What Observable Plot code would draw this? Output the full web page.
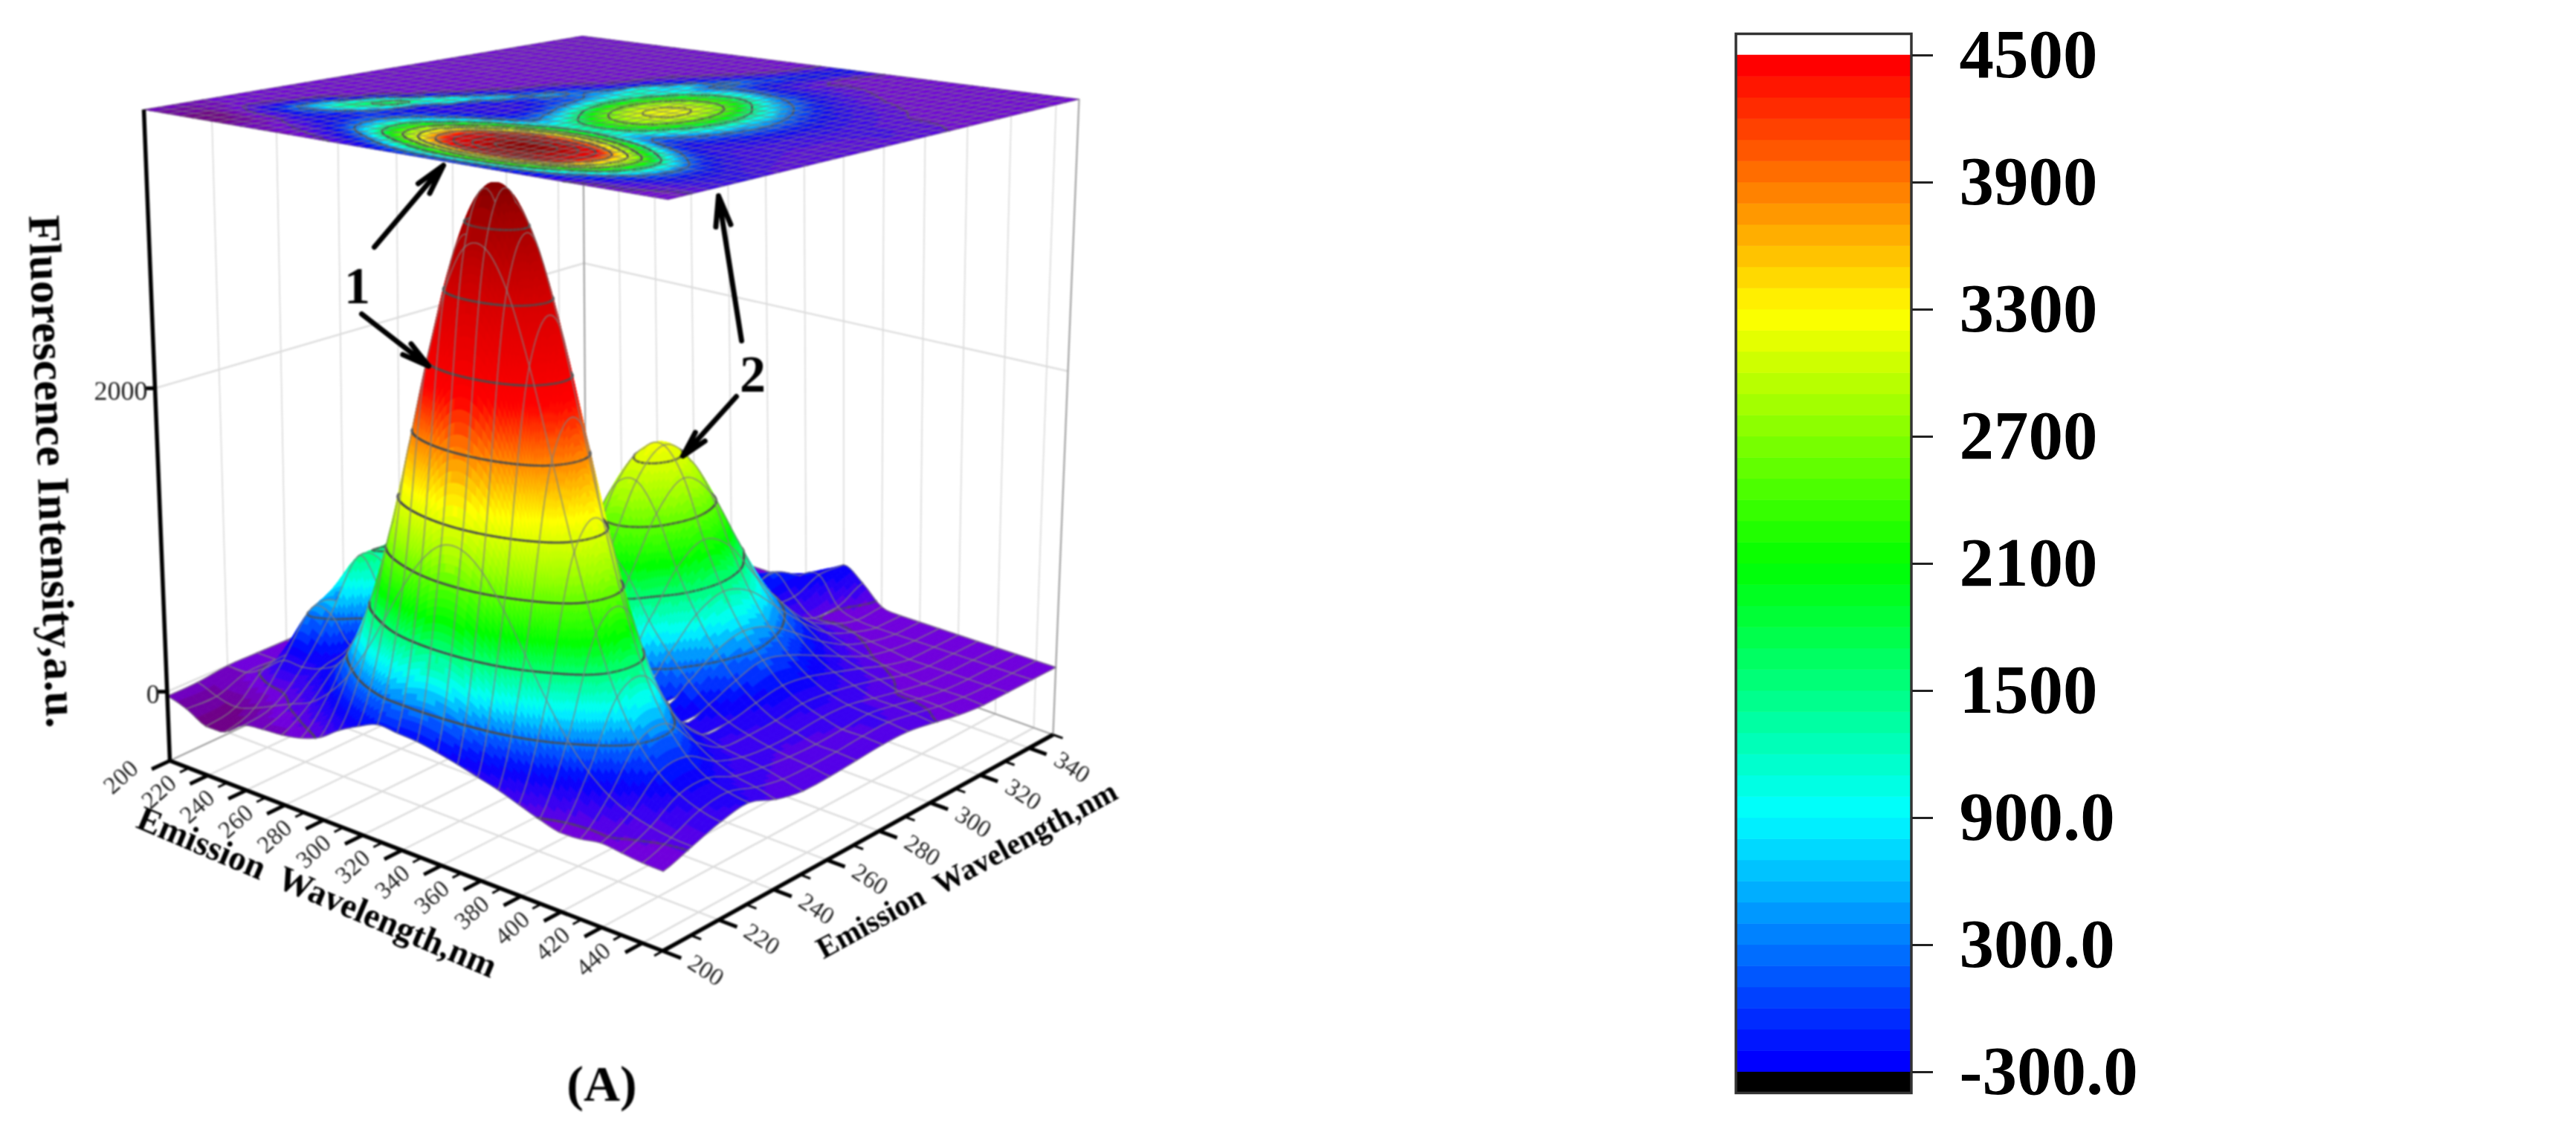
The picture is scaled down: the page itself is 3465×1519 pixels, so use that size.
<!DOCTYPE html>
<html><head><meta charset="utf-8">
<script src="https://cdn.jsdelivr.net/npm/d3@7"></script>
<script src="https://cdn.jsdelivr.net/npm/@observablehq/plot@0.6"></script>
<style>html,body{margin:0;background:#fff}#c{position:relative;width:3465px;height:1519px;overflow:hidden;background:#fff}#c>svg{position:absolute;top:0}</style>
</head><body><div id="c"></div>
<script>
// ---- axes ----
const emission = d3.range(200, 451, 10);
const excitation = d3.range(200, 351, 10);
const emissionTicks = [200,220,240,260,280,300,320,340,360,380,400,420,440];
const excitationTicks = [200,220,240,260,280,300,320,340];
const intensityTicks = [0,2000];
const barTicks = [-300,300,900,1500,2100,2700,3300,3900,4500];
const barLabels = ["-300.0","300.0","900.0","1500","2100","2700","3300","3900","4500"];
// ---- surface heights; one row per excitation wavelength, emission 200..450 ----
const ex200=[-60,-140,-280,-260,-80,-40,-20,30,130,310,450,560,540,520,470,410,340,270,180,90,20,30,70,40,10,0];
const ex210=[-50,-150,-200,-120,0,120,234,454,760,1176,1666,2164,2582,2838,2856,2646,2254,1770,1294,888,584,378,250,180,136,120];
const ex220=[0,0,150,350,350,420,592,1056,1760,2704,3822,4962,5932,6520,6560,6078,5174,4060,2976,2044,1334,868,576,402,296,240];
const ex230=[0,0,200,900,900,560,680,1160,1910,2922,4120,5346,6388,7018,7064,6548,5576,4376,3208,2202,1434,930,608,428,344,300];
const ex240=[0,0,30,800,1550,1200,520,720,1014,1600,2310,3048,3676,4038,4028,3678,3070,2358,1698,1168,788,540,382,282,232,170];
const ex250=[0,0,10,60,1200,1700,700,300,440,550,750,1050,1350,1500,1480,1300,1060,800,590,440,370,300,260,220,160,100];
const ex260=[0,0,0,10,30,900,1400,500,330,360,680,1130,1640,2010,2100,1830,1350,1000,720,500,360,280,220,180,150,110];
const ex270=[0,0,0,0,10,40,700,1100,500,560,920,1570,2290,2810,2910,2540,1880,1350,950,650,440,300,230,170,160,140];
const ex280=[0,0,0,0,0,10,80,500,1000,700,1100,1800,2600,3150,3260,2880,2120,1500,1050,750,500,350,260,190,190,170];
const ex290=[0,0,0,0,0,0,20,190,520,900,1150,1600,2290,2810,2910,2540,1880,1350,950,650,450,320,250,220,200,170];
const ex300=[0,0,0,0,0,0,0,30,100,450,1300,1200,1590,1940,2010,1750,1300,980,700,480,340,250,170,160,140,110];
const ex310=[0,0,0,0,0,0,0,0,0,160,600,1100,860,1040,1080,940,780,600,420,300,220,160,90,80,70,40];
const ex320=[0,0,0,0,0,0,0,0,0,60,140,480,880,600,450,390,360,280,200,130,90,50,20,20,20,0];
const ex330=[0,0,0,0,0,0,0,0,0,20,50,80,350,620,350,130,140,110,70,40,0,0,0,0,0,0];
const ex340=[0,0,0,0,0,0,0,0,0,0,20,40,80,400,500,120,20,0,0,0,0,0,0,0,0,0];
const ex350=[0,0,0,0,0,0,0,0,0,0,0,0,20,200,480,300,40,0,0,0,0,0,0,0,0,0];
const table=[ex200,ex210,ex220,ex230,ex240,ex250,ex260,ex270,ex280,ex290,ex300,ex310,ex320,ex330,ex340,ex350];
const contourLevels=[100,850,1600,2400,3100,4000,4950,5900,6800];

// ---- surface colours ----
const stopValues=[-300,0,170,450,800,1150,1900,2650,3300,4000,4650,5800,6900,7500];
const stopColours=["#6f0088","#7000dc","#4000f0","#0000ff","#0070ff","#00ffff","#00ff00","#a0ff00","#ffff00","#ff8000","#ff0000","#d80000","#a00000","#700000"];
const surfaceColour=d3.scaleLinear(stopValues,stopColours).clamp(true);
const bands=d3.range(-400,8001,100);
const CONTOUR=-20000,WIRE=-10000;
const surfaceDomain=[-15000,-5000,...bands];
const surfaceRange=["#4d4d4d","#808080",surfaceColour(-400),...bands.map(b=>surfaceColour(b))];

// ---- 3D frame ----
function quad(p00,p10,p11,p01){
  const dx1=p10[0]-p11[0],dx2=p01[0]-p11[0],sx=p00[0]-p10[0]+p11[0]-p01[0];
  const dy1=p10[1]-p11[1],dy2=p01[1]-p11[1],sy=p00[1]-p10[1]+p11[1]-p01[1];
  const den=dx1*dy2-dx2*dy1,g=(sx*dy2-dx2*sy)/den,h=(dx1*sy-sx*dy1)/den;
  const a=p10[0]-p00[0]+g*p10[0],b=p01[0]-p00[0]+h*p01[0],c=p00[0];
  const d=p10[1]-p00[1]+g*p10[1],e=p01[1]-p00[1]+h*p01[1],f=p00[1];
  return (u,v)=>{const w=g*u+h*v+1;return [(a*u+b*v+c)/w,(d*u+e*v+f)/w];};
}
const floorMap=quad([228,1023],[891,1279],[1416,988],[788,762]);
const topMap=quad([193,147],[898,268],[1451,133],[783,48]);
const U=d3.scaleLinear([200,450],[0,1]),V=d3.scaleLinear([200,350],[0,1]);
const heightOfTable=d3.scaleLinear([0,1000],[.106,.219]);   // surface height, as a fraction of the box
const heightOfAxis=d3.scaleLinear([0,2000],[.106,.572]);    // labelled z axis
function at(x,y,frac){const u=U(x),v=V(y),F=floorMap(u,v),T=topMap(u,v);return [F[0]+frac*(T[0]-F[0]),F[1]+frac*(T[1]-F[1])];}
// the projected map on the lid sits slightly offset from the box perspective
function onLid(x,y){const u=U(x),v=V(y),k=.38-.33*v;return topMap(u+k*u*(1-u),v-.16*v*(1-v));}

// ---- bicubic sampling of the table for drawing the mesh ----
const cr=(a,b,c,d,t)=>.5*(2*b+(c-a)*t+(2*a-5*b+4*c-d)*t*t+(3*b-a-3*c+d)*t*t*t);
const cell=(j,i)=>table[Math.max(0,Math.min(table.length-1,j))][Math.max(0,Math.min(emission.length-1,i))];
function sample(j,i,t,s){
  const r=[-1,0,1,2].map(dj=>cr(cell(j+dj,i-1),cell(j+dj,i),cell(j+dj,i+1),cell(j+dj,i+2),s));
  const val=cr(r[0],r[1],r[2],r[3],t);
  return Math.max(val,Math.min(cell(j,i),cell(j,i+1),cell(j+1,i),cell(j+1,i+1)));
}
// ---- build the mesh rows, far cells first ----
function buildMesh(flat){
  const rows=[];let id=0;
  const P=(x,y,val)=>flat?onLid(x,y):at(x,y,heightOfTable(val));
  const add=(pts,code,kind)=>{id++;for(const p of pts)rows.push({id,px:p[0],py:p[1],code,kind});};
  for(let j=table.length-2;j>=0;j--)for(let i=0;i<emission.length-1;i++){
    const c=[cell(j,i),cell(j,i+1),cell(j+1,i),cell(j+1,i+1)];
    let n=Math.max(4,Math.min(flat?16:28,Math.ceil((d3.max(c)-d3.min(c))/(flat?150:80))));
    if(n%2)n++;
    const xs=d3.range(n+1).map(k=>emission[i]+10*k/n),ys=d3.range(n+1).map(k=>excitation[j]+10*k/n);
    const g=ys.map((_,b)=>xs.map((_,a)=>sample(j,i,b/n,a/n)));
    for(let b=0;b<n;b++)for(let a=0;a<n;a++){
      const m=(g[b][a]+g[b][a+1]+g[b+1][a]+g[b+1][a+1])/4;
      add([P(xs[a],ys[b],g[b][a]),P(xs[a+1],ys[b],g[b][a+1]),P(xs[a+1],ys[b+1],g[b+1][a+1]),P(xs[a],ys[b+1],g[b+1][a]),P(xs[a],ys[b],g[b][a])],m,"fill");
    }
    for(const L of contourLevels)for(let b=0;b<n;b++)for(let a=0;a<n;a++){
      const v=[g[b][a],g[b][a+1],g[b+1][a+1],g[b+1][a]],X=[xs[a],xs[a+1],xs[a+1],xs[a]],Y=[ys[b],ys[b],ys[b+1],ys[b+1]],hit=[];
      for(let e=0;e<4;e++){const q=(e+1)%4;if((v[e]<L)!==(v[q]<L)){const t=(L-v[e])/(v[q]-v[e]);hit.push(P(X[e]+t*(X[q]-X[e]),Y[e]+t*(Y[q]-Y[e]),L));}}
      if(hit.length>=2)add(hit.slice(0,2),CONTOUR,"contour");
    }
    const rowsAt=flat?[0,n/2,n]:[0,n],colsAt=flat?[0,n/2,n]:[0,n];
    for(const b of rowsAt)add(d3.range(n+1).map(a=>P(xs[a],ys[b],g[b][a])),WIRE,"wire");
    for(const a of colsAt)add(d3.range(n+1).map(b=>P(xs[a],ys[b],g[b][a])),WIRE,"wire");
  }
  return rows;
}
const meshMark=(rows,wireW,contW,wireOp)=>Plot.line(rows,{x:"px",y:"py",z:"id",
  fill:"code",stroke:"code",
  fillOpacity:d=>d.kind==="fill"?1:0,
  strokeOpacity:d=>d.kind==="fill"?1:d.kind==="wire"?wireOp:.5,
  strokeWidth:d=>d.kind==="fill"?.9:d.kind==="wire"?wireW:contW,
  strokeLinecap:"round"});

// ---- frame lines ----
const seg=(a,b)=>({x1:a[0],y1:a[1],x2:b[0],y2:b[1]});
const wallV=[];
for(const y of excitationTicks.slice(1))wallV.push(seg(at(200,y,0),at(200,y,1)));
for(const x of emissionTicks.slice(1))wallV.push(seg(at(x,350,0),at(x,350,1)));
const wallH=[];
for(const z of intensityTicks){const f=heightOfAxis(z);wallH.push(seg(at(200,200,f),at(200,350,f)),seg(at(200,350,f),at(450,350,f)));}
const floorGrid=[];
for(const x of emissionTicks.slice(1))floorGrid.push(seg(at(x,200,0),at(x,350,0)));
for(const y of excitationTicks.slice(1))floorGrid.push(seg(at(200,y,0),at(450,y,0)));
const edgesGrey=[seg(at(200,350,0),at(200,350,1)),seg(at(450,350,0),at(450,350,1)),seg(at(200,200,0),at(200,350,0)),seg(at(200,350,0),at(450,350,0))];
const axisBlack=[seg(at(200,200,0),at(200,200,1)),seg(at(200,200,0),at(450,200,0)),seg(at(450,200,0),at(450,350,0))];
const ticksBlack=[];
for(const x of d3.range(200,451,10))ticksBlack.push({...seg(at(x,200,0),at(x,x%20?197:194,0)),w:x%20?3:5});
for(const y of d3.range(200,351,10))ticksBlack.push({...seg(at(450,y,0),at(y%20?455:459,y,0)),w:y%20?3:5});
for(const z of intensityTicks){const f=heightOfAxis(z),p=at(200,200,f);ticksBlack.push({x1:p[0],y1:p[1],x2:p[0]-14,y2:p[1],w:5});}

const serif="Liberation Serif";
const leftLabels=emissionTicks.map(x=>{const p=at(x,200,0);return {t:String(x),px:p[0]-66,py:p[1]+22};});
const rightLabels=excitationTicks.map(y=>{const p=at(450,y,0);return {t:String(y),px:p[0]+58,py:p[1]+26};});
const zLabels=intensityTicks.map(z=>{const p=at(200,200,heightOfAxis(z));return {t:String(z),px:p[0]-10,py:p[1]+4};});
// annotations
const arrows=[{x1:503,y1:332,x2:596,y2:222},{x1:486,y1:422,x2:576,y2:492},{x1:997,y1:458,x2:966,y2:263},{x1:990,y1:533,x2:918,y2:613}];
const notes=[{t:"1",px:480,py:385},{t:"2",px:1012,py:504}];

const main=Plot.plot({width:2200,height:1519,margin:0,
  style:{background:"transparent",fontFamily:serif,filter:"blur(0.9px)"},
  x:{domain:[0,2200],range:[0,2200],axis:null},
  y:{domain:[0,1519],range:[0,1519],axis:null},
  color:{type:"threshold",domain:surfaceDomain,range:surfaceRange},
  marks:[
    Plot.link(wallV,{x1:"x1",y1:"y1",x2:"x2",y2:"y2",stroke:"#d9d9d9",strokeWidth:1.6}),
    Plot.link(wallH,{x1:"x1",y1:"y1",x2:"x2",y2:"y2",stroke:"#dcdcdc",strokeWidth:2.4}),
    Plot.link(floorGrid,{x1:"x1",y1:"y1",x2:"x2",y2:"y2",stroke:"#dcdcdc",strokeWidth:2.4}),
    Plot.link(edgesGrey,{x1:"x1",y1:"y1",x2:"x2",y2:"y2",stroke:"#a0a0a0",strokeWidth:2.2}),
    meshMark(buildMesh(false),1.9,3.2,.6),
    meshMark(buildMesh(true),1.6,2.6,.5),
    Plot.link(axisBlack,{x1:"x1",y1:"y1",x2:"x2",y2:"y2",stroke:"#000",strokeWidth:5.5}),
    Plot.link(ticksBlack,{x1:"x1",y1:"y1",x2:"x2",y2:"y2",stroke:"#000",strokeWidth:"w"}),
    Plot.text(leftLabels,{x:"px",y:"py",text:"t",rotate:-42,fontSize:33,fill:"#222"}),
    Plot.text(rightLabels,{x:"px",y:"py",text:"t",rotate:33,fontSize:33,fill:"#222"}),
    Plot.text(zLabels,{x:"px",y:"py",text:"t",textAnchor:"end",fontSize:36,fill:"#222"}),
    Plot.text(["Fluorescence Intensity,a.u."],{x:[70],y:[634],text:d=>d,rotate:88,fontSize:61,fontWeight:"bold",fill:"#000"}),
    Plot.text(["Emission  Wavelength,nm"],{x:[426],y:[1200],text:d=>d,rotate:23,fontSize:47,fontWeight:"bold",fill:"#000"}),
    Plot.text(["Emission  Wavelength,nm"],{x:[1300],y:[1170],text:d=>d,rotate:-28.6,fontSize:41,fontWeight:"bold",fill:"#000"}),
    Plot.text(["(A)"],{x:[809],y:[1459],text:d=>d,fontSize:68,fontWeight:"bold",fill:"#000"}),
    Plot.arrow(arrows,{x1:"x1",y1:"y1",x2:"x2",y2:"y2",stroke:"#000",strokeWidth:7,headLength:9,headAngle:28}),
    Plot.text(notes,{x:"px",y:"py",text:"t",fontSize:70,fontWeight:"bold",fill:"#000"})
  ]});

// ---- colour bar ----
const barStops=[-300,900,2100,3300,4500],barColours=["#0000ff","#00ffff","#00ff00","#ffff00","#ff0000"];
const barColour=d3.scaleLinear(barStops,barColours);
const barBands=d3.range(-300,4500,100);
const barRows=barBands.map(v=>({v}));
const bar=Plot.plot({width:1265,height:1519,marginLeft:135,marginRight:894,marginTop:74,marginBottom:77,
  style:{background:"transparent",fontFamily:serif},
  x:{domain:[0,1],axis:null},
  y:{domain:[-300,4500]},
  color:{type:"threshold",domain:barBands.slice(1),range:barBands.map((_,i)=>barColour(-300+4800*i/47))},
  marks:[
    Plot.rect(barRows,{x1:0,x2:1,y1:"v",y2:d=>d.v+100,fill:"v",stroke:"v",strokeWidth:.6}),
    Plot.rect([{a:-400,b:-300}],{x1:0,x2:1,y1:"a",y2:"b",fill:"#000"}),
    Plot.rect([{a:-400,b:4600}],{x1:0,x2:1,y1:"a",y2:"b",fill:"none",stroke:"#333",strokeWidth:3.5}),
    Plot.axisY(barTicks,{anchor:"right",label:null,tickSize:28,tickPadding:36,tickFormat:d=>barLabels[barTicks.indexOf(d)],fontSize:93,fontWeight:"bold",fill:"#000",stroke:"#222",strokeWidth:3,textStroke:"none"})
  ]});

const c=document.getElementById("c");
main.style.left="0px";bar.style.left="2200px";
c.append(main,bar);
</script></body></html>
